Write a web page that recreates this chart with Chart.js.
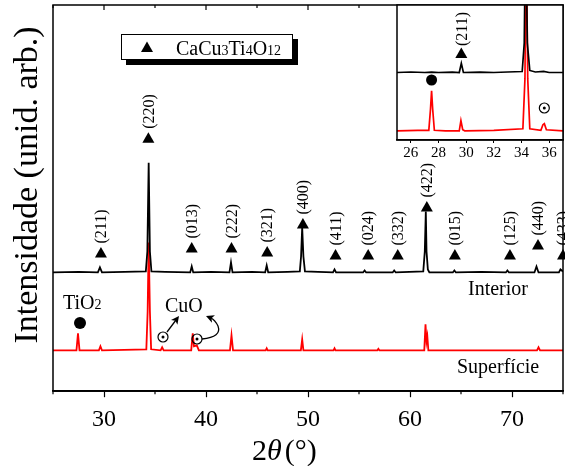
<!DOCTYPE html>
<html>
<head>
<meta charset="utf-8">
<script src="https://cdn.jsdelivr.net/npm/chart.js@4"></script>
<style>
body { margin: 0; background: #fff; }
#wrap { position: relative; width: 565px; height: 466px; }
#main { position: absolute; left: 0; top: 0; }
#inset { position: absolute; left: 380px; top: 0; }
</style>
</head>
<body>
<div id="wrap">
  <canvas id="main" width="565" height="466"></canvas>
  <canvas id="inset" width="185" height="170"></canvas>
</div>
<script>
// ---- data (2theta in degrees, intensity in arbitrary units incl. vertical offset) ----
const interiorTheta = [25.0, 27.5, 29.4, 29.6, 29.8, 32.0, 34.1, 34.25, 34.38, 34.5, 34.65, 36.0,
    38.45, 38.6, 38.75, 40.5, 42.3, 42.45, 42.6, 44.5, 45.8, 45.95, 46.1, 48.0,
    49.2, 49.32, 49.43, 49.55, 49.7, 51.0, 52.45, 52.6, 52.75, 55.4, 55.55, 55.7,
    58.3, 58.45, 58.6, 61.3, 61.45, 61.55, 61.62, 61.75, 61.9, 64.2, 64.35, 64.5,
    67.0, 69.4, 69.55, 69.7, 72.2, 72.4, 72.6, 74.6, 74.75, 75.0];
const interiorInt = [119, 119.5, 119, 124, 119, 119.5, 120, 140, 229, 140, 120, 119.5,
    119, 125, 119, 119.5, 119, 129, 119, 119.5, 119, 126, 119, 119.5,
    120, 135, 164, 135, 120, 119.5, 119, 122, 119, 119, 121, 119,
    119, 121, 119, 120, 140, 180, 140, 122, 119, 119, 121, 119,
    119.5, 119, 121, 119, 119, 125, 119, 119, 122, 120];

const superficieTheta = [25.0, 27.3, 27.45, 27.6, 29.5, 29.65, 29.8, 34.15, 34.28, 34.38, 34.5, 34.62,
    35.55, 35.7, 35.85, 38.55, 38.7, 38.82, 39.1, 39.3, 42.35, 42.5, 42.65,
    45.85, 45.95, 46.05, 49.3, 49.43, 49.55, 52.5, 52.6, 52.7, 56.8, 56.9, 57.0,
    61.4, 61.52, 61.62, 61.7, 61.8, 72.45, 72.6, 72.75, 75.0];
const superficieInt = [41, 41, 58, 41, 41, 45, 41, 42, 80, 149, 80, 42,
    41, 44, 41, 41, 58, 45, 46, 41, 41, 56, 41,
    41, 43, 41, 41, 52, 41, 41, 43, 41, 41, 42.5, 41,
    41, 67, 50, 55, 41, 41, 44, 41, 41];

// inset (zoom 25-37 degrees)
const insetInteriorTheta = [25.0, 26.0, 27.0, 27.5, 28.0, 29.0, 29.5, 29.65, 29.8, 31.0, 32.0, 33.0,
    34.05, 34.2, 34.3, 34.42, 34.6, 35.0, 35.6, 36.0, 37.0];
const insetInteriorInt = [66, 66.5, 66, 66.3, 66, 66.4, 66, 75, 66, 66.3, 66, 66.5,
    67, 95, 220, 95, 68, 66.5, 67, 66, 66];
const insetSuperficieTheta = [25.0, 26.5, 27.3, 27.42, 27.5, 27.58, 27.7, 28.5, 29.5, 29.62, 29.75, 29.9,
    32.0, 34.1, 34.25, 34.33, 34.45, 34.6, 35.4, 35.55, 35.65, 35.8, 37.0];
const insetSuperficieInt = [9, 9.4, 9.5, 30, 48, 30, 9.5, 9, 9, 19, 10, 9,
    9.5, 11, 60, 220, 60, 11, 9.5, 15, 16, 10, 9];

// x ticks
const mainTicks = [30, 40, 50, 60, 70];
const mainMinorTicks = [25, 35, 45, 55, 65, 75];
const insetTicks = [26, 28, 30, 32, 34, 36];

// CaCu3Ti4O12 reflections: label, 2theta, marker height
const hklLabels = ['(211)', '(220)', '(013)', '(222)', '(321)', '(400)', '(411)', '(024)',
    '(332)', '(422)', '(015)', '(125)', '(440)', '(433)'];
const hklTheta = [29.7, 34.35, 38.6, 42.5, 46.0, 49.5, 52.7, 55.9, 58.8, 61.65, 64.4, 69.8, 72.55, 75.0];
const hklMark = [139, 254, 144, 144, 140, 168, 137, 137, 137, 185, 137, 137, 147, 137];

const SERIF = '"Liberation Serif", "Times New Roman", serif';

function toPoints(xs, ys) {
    return xs.map((x, i) => ({ x: x, y: ys[i] }));
}

// ---- drawing helpers ----
function triangle(ctx, x, y) {
    ctx.beginPath();
    ctx.moveTo(x, y - 5.5);
    ctx.lineTo(x + 6, y + 5);
    ctx.lineTo(x - 6, y + 5);
    ctx.closePath();
    ctx.fill();
}

function dotCircle(ctx, x, y) {
    ctx.beginPath();
    ctx.arc(x, y, 5, 0, Math.PI * 2);
    ctx.lineWidth = 1.2;
    ctx.stroke();
    ctx.beginPath();
    ctx.arc(x, y, 1.5, 0, Math.PI * 2);
    ctx.fill();
}

function arrowHead(ctx, x, y, angle) {
    ctx.save();
    ctx.translate(x, y);
    ctx.rotate(angle);
    ctx.beginPath();
    ctx.moveTo(0, 0);
    ctx.lineTo(-8, -4);
    ctx.lineTo(-6, 0);
    ctx.lineTo(-8, 4);
    ctx.closePath();
    ctx.fill();
    ctx.restore();
}

// text with small subscripts sitting on the baseline
function formula(ctx, parts, x, y, big, small) {
    ctx.textAlign = 'left';
    ctx.textBaseline = 'alphabetic';
    parts.forEach(p => {
        ctx.font = (p[1] ? small : big) + 'px ' + SERIF;
        ctx.fillText(p[0], x, y);
        x += ctx.measureText(p[0]).width;
    });
}

const mainDecor = {
    id: 'mainDecor',
    afterDraw(chart) {
        const ctx = chart.ctx;
        const a = chart.chartArea;
        const xs = chart.scales.x;
        const ys = chart.scales.y;
        ctx.save();
        ctx.strokeStyle = '#000';
        ctx.fillStyle = '#000';

        // frame
        ctx.lineWidth = 1.5;
        ctx.strokeRect(a.left, a.top, a.right - a.left, a.bottom - a.top);

        // top inward ticks + bottom minor ticks
        ctx.lineWidth = 1.2;
        ctx.beginPath();
        mainTicks.forEach(v => {
            const px = xs.getPixelForValue(v);
            ctx.moveTo(px, a.top); ctx.lineTo(px, a.top + 5);
        });
        mainMinorTicks.forEach(v => {
            const px = xs.getPixelForValue(v);
            ctx.moveTo(px, a.top); ctx.lineTo(px, a.top + 3);
            ctx.moveTo(px, a.bottom); ctx.lineTo(px, a.bottom + 3);
        });
        ctx.stroke();

        // axis titles
        ctx.save();
        ctx.translate(28, 185);
        ctx.rotate(-Math.PI / 2);
        ctx.font = '34px ' + SERIF;
        ctx.textAlign = 'center';
        ctx.textBaseline = 'middle';
        ctx.fillText('Intensidade (unid. arb.)', 0, 0);
        ctx.restore();

        ctx.textBaseline = 'alphabetic';
        ctx.textAlign = 'left';
        let tx = 252;
        ctx.font = '30px ' + SERIF;
        ctx.fillText('2', tx, 460); tx += ctx.measureText('2').width;
        ctx.font = 'italic 30px ' + SERIF;
        ctx.fillText('\u03b8', tx, 460); tx += ctx.measureText('\u03b8').width + 3;
        ctx.font = '30px ' + SERIF;
        ctx.fillText('(\u00b0)', tx, 460);

        // reflections
        ctx.font = '16px ' + SERIF;
        hklLabels.forEach((lab, i) => {
            const px = xs.getPixelForValue(hklTheta[i]);
            const py = ys.getPixelForValue(hklMark[i]);
            triangle(ctx, px, py);
            ctx.save();
            ctx.translate(px + 1, py - 9);
            ctx.rotate(-Math.PI / 2);
            ctx.textAlign = 'left';
            ctx.textBaseline = 'middle';
            ctx.fillText(lab, 0, 0);
            ctx.restore();
        });

        // legend box with shadow
        ctx.fillRect(126, 39, 172, 26);
        ctx.fillStyle = '#fff';
        ctx.fillRect(121, 34, 172, 26);
        ctx.fillStyle = '#000';
        ctx.lineWidth = 1;
        ctx.strokeRect(121.5, 34.5, 171, 25);
        triangle(ctx, 147, 47);
        formula(ctx, [['CaCu', 0], ['3', 1], ['Ti', 0], ['4', 1], ['O', 0], ['12', 1]], 176, 55, 20, 14);

        // TiO2
        formula(ctx, [['TiO', 0], ['2', 1]], 63, 309, 20, 14);
        ctx.beginPath();
        ctx.arc(80, 323, 6, 0, Math.PI * 2);
        ctx.fill();

        // CuO
        formula(ctx, [['CuO', 0]], 165, 312, 20, 14);
        dotCircle(ctx, 163, 337);
        dotCircle(ctx, 197, 339);
        ctx.lineWidth = 1.3;
        ctx.beginPath();
        ctx.moveTo(167, 332);
        ctx.lineTo(176, 320);
        ctx.stroke();
        arrowHead(ctx, 179, 316, Math.atan2(-16, 12));
        ctx.beginPath();
        ctx.moveTo(202, 339);
        ctx.quadraticCurveTo(222, 337, 218, 326);
        ctx.quadraticCurveTo(215, 320, 211, 318);
        ctx.stroke();
        arrowHead(ctx, 206, 316, Math.atan2(-2, -5));

        // sample names
        ctx.font = '20px ' + SERIF;
        ctx.textBaseline = 'middle';
        ctx.fillText('Interior', 468, 290);
        ctx.fillText('Superf\u00edcie', 457, 368);
        ctx.restore();
    }
};

const insetDecor = {
    id: 'insetDecor',
    beforeDraw(chart) {
        const ctx = chart.ctx;
        const a = chart.chartArea;
        ctx.save();
        ctx.fillStyle = '#fff';
        ctx.fillRect(a.left, a.top, a.right - a.left, a.bottom - a.top);
        ctx.restore();
    },
    afterDraw(chart) {
        const ctx = chart.ctx;
        const a = chart.chartArea;
        const xs = chart.scales.x;
        ctx.save();
        ctx.strokeStyle = '#000';
        ctx.fillStyle = '#000';
        ctx.lineWidth = 1.5;
        ctx.strokeRect(a.left, a.top, a.right - a.left, a.bottom - a.top);

        // (211) marker
        const px = xs.getPixelForValue(29.65);
        triangle(ctx, px, 53);
        ctx.save();
        ctx.translate(px + 1, 46);
        ctx.rotate(-Math.PI / 2);
        ctx.font = '16px ' + SERIF;
        ctx.textAlign = 'left';
        ctx.textBaseline = 'middle';
        ctx.fillText('(211)', 0, 0);
        ctx.restore();

        // TiO2 and CuO markers
        ctx.beginPath();
        ctx.arc(xs.getPixelForValue(27.5), 80, 5.5, 0, Math.PI * 2);
        ctx.fill();
        dotCircle(ctx, xs.getPixelForValue(35.65), 108);
        ctx.restore();
    }
};

new Chart(document.getElementById('main'), {
    type: 'scatter',
    data: {
        datasets: [
            {
                label: 'Interior',
                data: toPoints(interiorTheta, interiorInt),
                showLine: true,
                borderColor: '#000000',
                borderWidth: 1.8,
                pointRadius: 0
            },
            {
                label: 'Superfície',
                data: toPoints(superficieTheta, superficieInt),
                showLine: true,
                borderColor: '#ff0000',
                borderWidth: 1.8,
                pointRadius: 0
            }
        ]
    },
    options: {
        responsive: false,
        animation: false,
        layout: { padding: { left: 53, right: 2, top: 5, bottom: 24 } },
        plugins: { legend: { display: false }, tooltip: { enabled: false } },
        scales: {
            x: {
                type: 'linear',
                min: 25,
                max: 75,
                afterBuildTicks: s => { s.ticks = mainTicks.map(v => ({ value: v })); },
                ticks: { color: '#000', padding: 8, font: { family: SERIF, size: 24 } },
                grid: { drawOnChartArea: false, tickLength: 6, tickColor: '#000', tickWidth: 1.2 },
                border: { color: '#000', width: 1.5 }
            },
            y: {
                display: false,
                min: 0,
                max: 387
            }
        }
    },
    plugins: [mainDecor]
});

new Chart(document.getElementById('inset'), {
    type: 'scatter',
    data: {
        datasets: [
            {
                data: toPoints(insetInteriorTheta, insetInteriorInt),
                showLine: true,
                borderColor: '#000000',
                borderWidth: 1.7,
                pointRadius: 0
            },
            {
                data: toPoints(insetSuperficieTheta, insetSuperficieInt),
                showLine: true,
                borderColor: '#ff0000',
                borderWidth: 1.7,
                pointRadius: 0
            }
        ]
    },
    options: {
        responsive: false,
        animation: false,
        layout: { padding: { left: 17, right: 2, top: 5, bottom: 7 } },
        plugins: { legend: { display: false }, tooltip: { enabled: false } },
        scales: {
            x: {
                type: 'linear',
                min: 25,
                max: 37,
                afterBuildTicks: s => { s.ticks = insetTicks.map(v => ({ value: v })); },
                ticks: { color: '#000', padding: 1, font: { family: SERIF, size: 15 } },
                grid: { drawOnChartArea: false, tickLength: 3, tickColor: '#000', tickWidth: 1 },
                border: { color: '#000', width: 1.5 }
            },
            y: {
                display: false,
                min: 0,
                max: 132
            }
        }
    },
    plugins: [insetDecor]
});
</script>
</body>
</html>
